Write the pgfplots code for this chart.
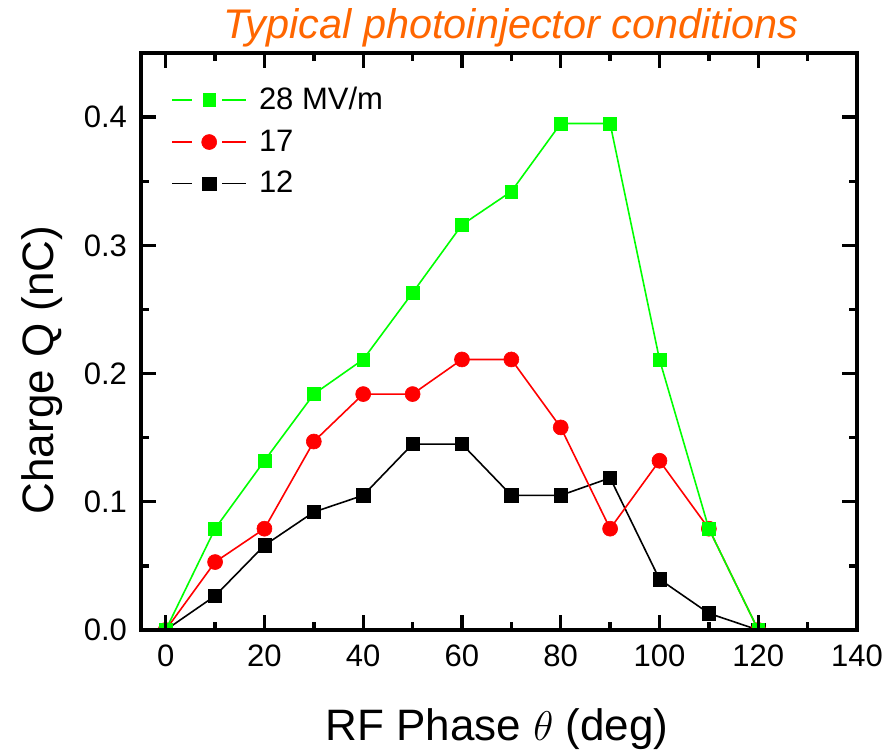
\documentclass[border=0pt]{standalone}
\usepackage{pgfplots}
\pgfplotsset{compat=1.18}
\usepackage{fontspec}
\setmainfont{Liberation Sans}
\usetikzlibrary{calc}
\definecolor{origgreen}{RGB}{0,255,0}
\definecolor{titleorange}{RGB}{255,102,0}

\begin{document}
\begin{tikzpicture}
\begin{axis}[
  name=ax,
  scale only axis,
  width=358pt, height=288.5pt,
  xmin=-5, xmax=140, ymin=0, ymax=0.45,
  xtick={0,20,...,140}, minor xtick={10,30,...,130},
  ytick={0,0.1,0.2,0.3,0.4}, minor ytick={0.05,0.15,0.25,0.35},
  tick align=inside,
  major tick length=7.5pt, minor tick length=4pt,
  xtick style={black, line width=1.7pt},
  ytick style={black, line width=1.7pt},
  axis line style={line width=2.4pt},
  axis on top,
  clip marker paths=true,
  /pgf/number format/assume math mode=true,
  ticklabel style={font=\fontsize{15.5}{18}\selectfont},
  xticklabel style={yshift=-4pt},
  yticklabel style={xshift=-3.5pt, /pgf/number format/fixed,
    /pgf/number format/fixed zerofill, /pgf/number format/precision=1},
  reverse legend,
  legend cell align=left,
  legend style={at={(rel axis cs:0,1)}, anchor=north west, xshift=12pt, yshift=-13pt,
    draw=none, fill=none, font=\fontsize{15.5}{18}\selectfont, row sep=4.5pt},
  legend image code/.code={
    \draw[#1,mark=none] (0pt,0pt) -- (10pt,0pt);
    \draw[#1,mark=none] (25pt,0pt) -- (37pt,0pt);
    \draw[#1,only marks] plot coordinates {(18.5pt,0pt)};
    \path (41pt,0pt);},
]
\addplot[black, line width=0.8pt, mark=square*, mark size=3.3pt, mark options={line width=0.3pt}]
  coordinates {(0,0) (10,0.0266) (20,0.066) (30,0.092) (40,0.105) (50,0.145) (60,0.145)
  (70,0.105) (80,0.105) (90,0.1186) (100,0.0396) (110,0.013) (120,0)};
\addlegendentry{12}
\addplot[red, line width=0.8pt, mark=*, mark size=3.75pt, mark options={line width=0.3pt}]
  coordinates {(0,0) (10,0.053) (20,0.079) (30,0.147) (40,0.184) (50,0.184) (60,0.211)
  (70,0.211) (80,0.158) (90,0.079) (100,0.132) (110,0.079) (120,0)};
\addlegendentry{17}
\addplot[origgreen, line width=0.8pt, mark=square*, mark size=3.2pt, mark options={line width=0.3pt}]
  coordinates {(0,0) (10,0.079) (20,0.132) (30,0.184) (40,0.211) (50,0.263) (60,0.316)
  (70,0.342) (80,0.395) (90,0.395) (100,0.211) (110,0.079) (120,0)};
\addlegendentry{28 MV/m}
\end{axis}
\node[anchor=base, text=titleorange, font=\itshape\fontsize{20.7}{24}\selectfont]
  at ($(ax.north west)+(185pt,7.5pt)$) {Typical photoinjector conditions};
\node[anchor=base, font=\fontsize{22}{26}\selectfont]
  at ($(ax.south west)+(178pt,-55pt)$) {RF Phase $\theta$ (deg)};
\node[rotate=90, anchor=center, font=\fontsize{22}{26}\selectfont]
  at ($(ax.south west)+(-49.5pt,130pt)$) {Charge Q (nC)};
\pgfresetboundingbox
\useasboundingbox ($(ax.south west)+(-70.5pt,-59.5pt)$) rectangle ($(ax.south west)+(376pt,315pt)$);
\end{tikzpicture}
\end{document}
